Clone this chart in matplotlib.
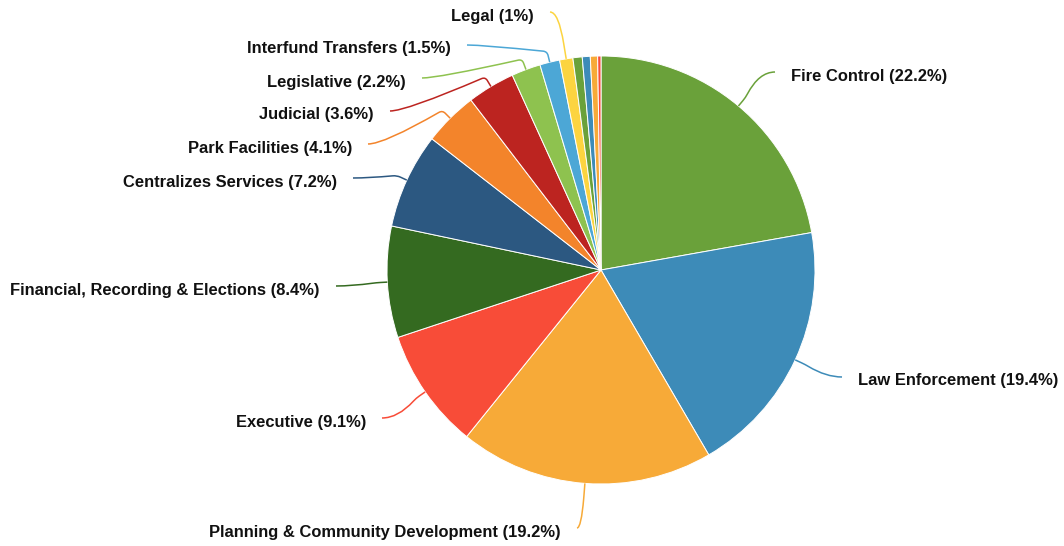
import numpy as np
import matplotlib
matplotlib.use("Agg")
import matplotlib.pyplot as plt
from matplotlib.path import Path
from matplotlib.patches import PathPatch

# Data (percent of total budget)
departments = ["Fire Control", "Law Enforcement", "Planning & Community Development",
               "Executive", "Financial, Recording & Elections", "Centralizes Services",
               "Park Facilities", "Judicial", "Legislative", "Interfund Transfers", "Legal",
               "Other 1", "Other 2", "Other 3", "Other 4"]
shares = [22.2, 19.4, 19.2, 9.1, 8.4, 7.2, 4.1, 3.6, 2.2, 1.5, 1.0, 0.7, 0.6, 0.55, 0.25]
labels = ["Fire Control (22.2%)", "Law Enforcement (19.4%)",
          "Planning & Community Development (19.2%)", "Executive (9.1%)",
          "Financial, Recording & Elections (8.4%)", "Centralizes Services (7.2%)",
          "Park Facilities (4.1%)", "Judicial (3.6%)", "Legislative (2.2%)",
          "Interfund Transfers (1.5%)", "Legal (1%)", "", "", "", ""]
colors = ["#6aa13a", "#3d8bb8", "#f7aa38", "#f84c38", "#346a20", "#2c5881",
          "#f3842b", "#bc2420", "#8ec24f", "#4ca7d6", "#fcd440",
          "#6aa13a", "#3d8bb8", "#f7aa38", "#f84c38"]

# where each connector ends (pixel coords, y from top) and which side the text sits on
label_pos = [(775, 72, 1), (842, 377, 1), (577, 528, -1), (382, 418, -1), (336, 286, -1),
             (353, 178, -1), (368, 144, -1), (390, 111, -1), (422, 78, -1),
             (467, 45, -1), (550, 12, -1)]

W, H = 1064, 546
cx, cy, R = 601, 270, 214


def toward(p, q, dist):
    v = np.array(q) - np.array(p)
    n = np.hypot(*v)
    if n < 1e-6:
        return tuple(p)
    return tuple(np.array(p) + v / n * min(dist, n / 2))


fig = plt.figure(figsize=(W / 100, H / 100), dpi=100)
ax = fig.add_axes([0, 0, 1, 1])
wedges, _ = ax.pie(shares, colors=colors, startangle=90, counterclock=False,
                   center=(cx, H - cy), radius=R,
                   wedgeprops=dict(edgecolor="white", linewidth=0.7))
ax.set_xlim(0, W)
ax.set_ylim(0, H)
ax.axis("off")

total = sum(shares)
cum = 0
for i, s in enumerate(shares):
    mid = (cum + s / 2) / total * 2 * np.pi
    cum += s
    if i >= len(label_pos):
        continue
    e = (cx + R * np.sin(mid), H - (cy - R * np.cos(mid)))
    b = (cx + (R + 11) * np.sin(mid), H - (cy - (R + 11) * np.cos(mid)))
    lx, ly, d = label_pos[i]
    ly = H - ly
    k = min(16, abs(b[0] - lx) * 0.6)
    ctrl = (lx - d * k, ly)
    a1 = toward(b, e, 4)
    a2 = toward(b, ctrl, 4)
    verts = [e, a1, b, a2, ctrl, (lx, ly)]
    codes = [Path.MOVETO, Path.LINETO, Path.CURVE3, Path.CURVE3, Path.CURVE3, Path.CURVE3]
    ax.add_patch(PathPatch(Path(verts, codes), fill=False, edgecolor=colors[i], lw=1.1))
    ax.text(lx + d * 16, ly - 4, labels[i], ha="left" if d > 0 else "right", va="center",
            fontsize=11.9, fontweight="bold", family="Liberation Sans", color="#111111")

fig.savefig("out.png", dpi=100)
